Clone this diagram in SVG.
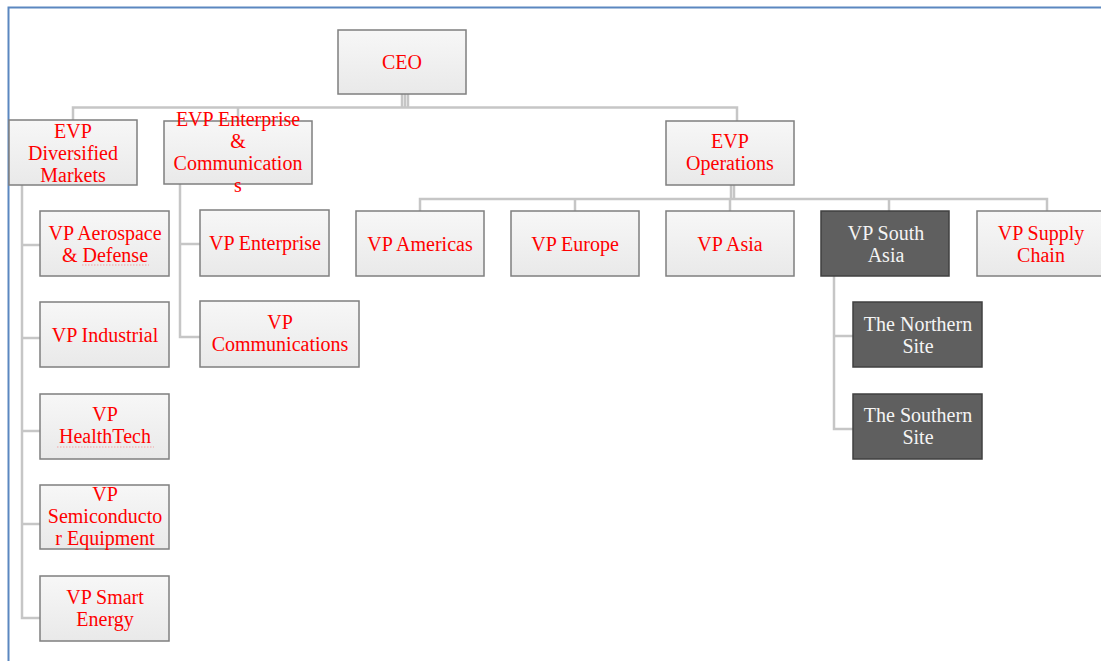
<svg xmlns="http://www.w3.org/2000/svg" width="1101" height="661" viewBox="0 0 1101 661">
<defs>
<linearGradient id="lg" x1="0" y1="0" x2="0" y2="1">
<stop offset="0" stop-color="#f7f7f7"/>
<stop offset="1" stop-color="#e9e9e9"/>
</linearGradient>
<style>
.b{fill:url(#lg);stroke:#7f7f7f;stroke-width:1.5}
.d{fill:#5f5f5f;stroke:#404040;stroke-width:1.5}
.t{font-family:"Liberation Serif","Times New Roman",serif;font-size:20px;fill:#ff0000;text-anchor:middle}
.w{font-family:"Liberation Serif","Times New Roman",serif;font-size:20px;fill:#f4f4f4;text-anchor:middle}
.c{fill:none;stroke:#c6c6c6;stroke-width:2.5}
.sq{fill:none;stroke:#f4a0a0;stroke-width:1;stroke-dasharray:1.5 1.5}
</style>
</defs>
<rect width="1101" height="661" fill="#ffffff"/>
<path d="M8.5 661 V7.5 H1101" fill="none" stroke="#5b87c0" stroke-width="2"/>
<g id="connectors">
<path class="c" d="M402 94 V107 M405 94 V107 M408 94 V107"/>
<path class="c" d="M73 120 V107.5 H737 V121 M238 107.5 V121"/>
<path class="c" d="M22 185 V618 H40 M22 245 H40 M22 338 H40 M22 431 H40 M22 524 H40"/>
<path class="c" d="M180 184 V337 H200 M180 244 H200"/>
<path class="c" d="M731 185 V199 M734 185 V199"/>
<path class="c" d="M420 211 V199 H1047 V211 M575 199 V211 M730 199 V211 M889 199 V211"/>
<path class="c" d="M834 276 V429 H853 M834 336 H853"/>
</g>
<g id="ceo"><rect class="b" x="338" y="30" width="128" height="64"/><text class="t" x="402" y="69">CEO</text></g>
<g id="evp-diversified"><rect class="b" x="9" y="120" width="128" height="65"/><text class="t" x="73" y="138">EVP</text><text class="t" x="73" y="160">Diversified</text><text class="t" x="73" y="182">Markets</text></g>
<g id="evp-enterprise"><rect class="b" x="164" y="121" width="148" height="63"/><text class="t" x="238" y="126">EVP Enterprise</text><text class="t" x="238" y="148">&amp;</text><text class="t" x="238" y="170">Communication</text><text class="t" x="238" y="192">s</text></g>
<g id="evp-operations"><rect class="b" x="666" y="121" width="128" height="64"/><text class="t" x="730" y="148">EVP</text><text class="t" x="730" y="170">Operations</text></g>
<g id="vp-aerospace"><rect class="b" x="40" y="211" width="129" height="65"/><text class="t" x="105" y="240">VP Aerospace</text><text class="t" x="105" y="262">&amp; Defense</text><path class="sq" d="M82 265 H149"/></g>
<g id="vp-industrial"><rect class="b" x="40" y="302" width="129" height="65"/><text class="t" x="105" y="342">VP Industrial</text></g>
<g id="vp-healthtech"><rect class="b" x="40" y="394" width="129" height="65"/><text class="t" x="105" y="421">VP</text><text class="t" x="105" y="443">HealthTech</text><path class="sq" d="M57 447 H154"/></g>
<g id="vp-semiconductor"><rect class="b" x="40" y="485" width="129" height="64"/><text class="t" x="105" y="501">VP</text><text class="t" x="105" y="523">Semiconducto</text><text class="t" x="105" y="545">r Equipment</text></g>
<g id="vp-smart-energy"><rect class="b" x="40" y="576" width="129" height="65"/><text class="t" x="105" y="604">VP Smart</text><text class="t" x="105" y="626">Energy</text></g>
<g id="vp-enterprise"><rect class="b" x="200" y="210" width="129" height="66"/><text class="t" x="265" y="250">VP Enterprise</text></g>
<g id="vp-communications"><rect class="b" x="200" y="301" width="159" height="66"/><text class="t" x="280" y="329">VP</text><text class="t" x="280" y="351">Communications</text></g>
<g id="vp-americas"><rect class="b" x="356" y="211" width="128" height="65"/><text class="t" x="420" y="251">VP Americas</text></g>
<g id="vp-europe"><rect class="b" x="511" y="211" width="128" height="65"/><text class="t" x="575" y="251">VP Europe</text></g>
<g id="vp-asia"><rect class="b" x="666" y="211" width="128" height="65"/><text class="t" x="730" y="251">VP Asia</text></g>
<g id="vp-south-asia"><rect class="d" x="821" y="211" width="128" height="65"/><text class="w" x="886" y="240">VP South</text><text class="w" x="886" y="262">Asia</text></g>
<g id="vp-supply-chain"><rect class="b" x="977" y="211" width="130" height="65"/><text class="t" x="1041" y="240">VP Supply</text><text class="t" x="1041" y="262">Chain</text></g>
<g id="northern-site"><rect class="d" x="853" y="302" width="129" height="65"/><text class="w" x="918" y="331">The Northern</text><text class="w" x="918" y="353">Site</text></g>
<g id="southern-site"><rect class="d" x="853" y="394" width="129" height="65"/><text class="w" x="918" y="422">The Southern</text><text class="w" x="918" y="444">Site</text></g>
</svg>
